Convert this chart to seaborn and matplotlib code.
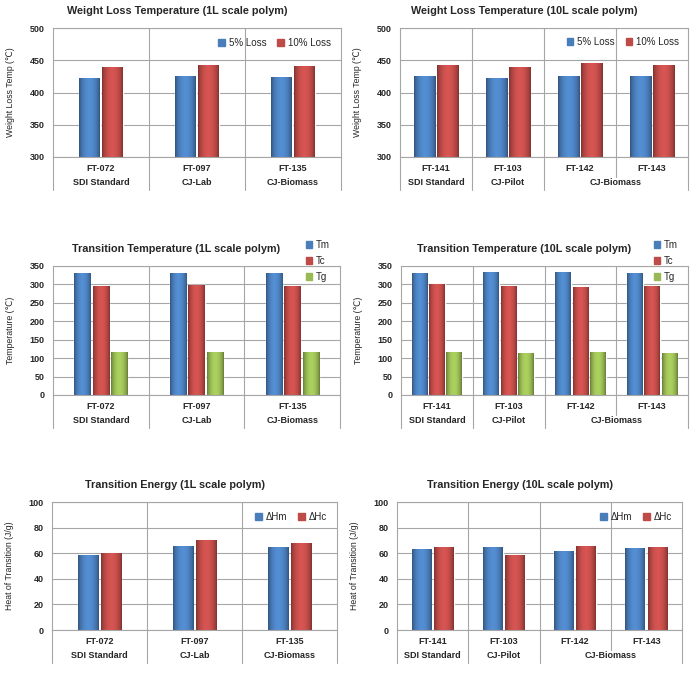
import numpy as np
import pandas as pd
import matplotlib
matplotlib.use('Agg')
import matplotlib.pyplot as plt
import matplotlib.colors as mcolors
import matplotlib.transforms as mtransforms
from matplotlib.patches import Patch
import seaborn as sns

# --- data ---
samples_1l = ['FT-072', 'FT-097', 'FT-135']
groups_1l = ['SDI Standard', 'CJ-Lab', 'CJ-Biomass']
samples_10l = ['FT-141', 'FT-103', 'FT-142', 'FT-143']
groups_10l = ['SDI Standard', 'CJ-Pilot', 'CJ-Biomass', 'CJ-Biomass']

loss_labels = ['5% Loss', '10% Loss']
loss5_1l = [422, 426, 424]
loss10_1l = [440, 442, 441]
loss5_10l = [425, 423, 426, 425]
loss10_10l = [443, 439, 446, 443]

trans_labels = ['Tm', 'Tc', 'Tg']
tm_1l = [330, 330, 332]
tc_1l = [297, 298, 297]
tg_1l = [118, 116, 118]
tm_10l = [331, 334, 333, 331]
tc_10l = [300, 295, 293, 295]
tg_10l = [118, 115, 118, 115]

energy_labels = ['\u0394Hm', '\u0394Hc']
hm_1l = [58.7, 66, 65.2]
hc_1l = [60, 70, 68.3]
hm_10l = [63, 65, 62, 64.4]
hc_10l = [65, 58.7, 66, 65]

BLUE, RED, GREEN = '#4A7EBB', '#BE4B48', '#98B954'
LINE = '#A6A6A6'

sns.set_style('white')
plt.rcParams['font.family'] = ['Liberation Sans', 'DejaVu Sans']

W, H = 697, 677
fig = plt.figure(figsize=(W / 100, H / 100), dpi=100)


def px_axes(left, top, width, height):
    return fig.add_axes([left / W, 1 - (top + height) / H, width / W, height / H])


def shade_bars(ax):
    # cylinder-like shading similar to the old Excel bars
    t = np.linspace(0, 1, 48)
    f = 0.66 + 0.47 * np.sin(np.pi * t) ** 0.7
    ymin = ax.get_ylim()[0]
    for bar in list(ax.patches):
        w, h = bar.get_width(), bar.get_height()
        if not w or not h or np.isnan(h):
            continue
        base = np.array(mcolors.to_rgb(bar.get_facecolor()))
        img = np.clip(base[None, None, :] * f[None, :, None], 0, 1)
        x0, y0 = bar.get_x(), bar.get_y()
        im = ax.imshow(img, extent=[x0, x0 + w, max(y0, ymin), y0 + h],
                       aspect='auto', interpolation='bilinear',
                       zorder=bar.get_zorder() + 0.1)
        im.set_clip_path(bar)


def draw_panel(ax, samples, groups, series, labels, colors, ylim, step,
               title, ylabel, width, gap, legend_kw):
    rows = []
    for lab, vals in zip(labels, series):
        for s, v in zip(samples, vals):
            rows.append({'sample': s, 'series': lab, 'value': v})
    df = pd.DataFrame(rows)
    sns.barplot(data=df, x='sample', y='value', hue='series', order=samples,
                hue_order=labels, palette=colors, saturation=1, width=width,
                gap=gap, legend=False, errorbar=None, ax=ax)
    n = len(samples)
    ax.set_xlim(-0.5, n - 0.5)
    ax.set_ylim(*ylim)
    shade_bars(ax)
    ax.set_xlim(-0.5, n - 0.5)
    ax.set_ylim(*ylim)
    ticks = np.arange(ylim[0], ylim[1] + 0.1, step)
    ax.set_yticks(ticks)
    ax.set_yticklabels([f'{t:.0f}' for t in ticks], fontweight='bold', fontsize=6.5)
    ax.set_xticks(range(n))
    ax.set_xticklabels(samples, fontweight='bold', fontsize=6.5)
    ax.tick_params(axis='x', length=0, pad=5)
    ax.tick_params(axis='y', length=0, pad=6)
    ax.set_xlabel('')
    ax.set_ylabel(ylabel, fontsize=6.3)
    ax.yaxis.set_label_coords(-0.132, 0.5)
    ax.yaxis.grid(True, color=LINE, lw=0.8)
    ax.set_axisbelow(True)
    for sp in ax.spines.values():
        sp.set_color(LINE)
        sp.set_linewidth(0.8)

    trans = mtransforms.blended_transform_factory(ax.transData, ax.transAxes)
    for b in range(n + 1):
        outer = b == 0 or b == n or groups[b - 1] != groups[b]
        y_bot = -0.256 if outer else -0.153
        y_top = 0 if b in (0, n) else 1
        ax.plot([b - 0.5, b - 0.5], [y_top, y_bot], color=LINE, lw=0.8,
                transform=trans, clip_on=False)
    start = 0
    for i in range(1, n + 1):
        if i == n or groups[i] != groups[start]:
            ax.text((start + i - 1) / 2, -0.2, groups[start], transform=trans,
                    ha='center', va='center', fontsize=6.5, fontweight='bold')
            start = i

    ax.text(0.43, 1.135, title, transform=ax.transAxes, ha='center',
            va='center', fontsize=7.8, fontweight='bold')
    handles = [Patch(color=c, label=l) for c, l in zip(colors, labels)]
    ax.legend(handles=handles, frameon=False, fontsize=7, handlelength=0.7,
              handleheight=0.7, handletextpad=0.4, borderaxespad=0,
              borderpad=0, **legend_kw)


horiz = dict(ncol=2, loc='center right', columnspacing=1.1)

ax1 = px_axes(53, 28, 288, 129)
draw_panel(ax1, samples_1l, groups_1l, [loss5_1l, loss10_1l], loss_labels,
           [BLUE, RED], (300, 500), 50,
           'Weight Loss Temperature (1L scale polym)', 'Weight Loss Temp (\u2103)',
           0.48, 0.1, dict(horiz, bbox_to_anchor=(0.965, 0.886)))

ax2 = px_axes(400, 28, 288, 129)
draw_panel(ax2, samples_10l, groups_10l, [loss5_10l, loss10_10l], loss_labels,
           [BLUE, RED], (300, 500), 50,
           'Weight Loss Temperature (10L scale polym)', 'Weight Loss Temp (\u2103)',
           0.64, 0.05, dict(horiz, bbox_to_anchor=(0.97, 0.894)))

vert = dict(ncol=1, loc='upper left', labelspacing=0.6)

ax3 = px_axes(53, 266, 287, 129)
draw_panel(ax3, samples_1l, groups_1l, [tm_1l, tc_1l, tg_1l], trans_labels,
           [BLUE, RED, GREEN], (0, 350), 50,
           'Transition Temperature (1L scale polym)', 'Temperature (\u2103)',
           0.58, 0.12, dict(vert, bbox_to_anchor=(0.88, 1.2)))

ax4 = px_axes(401, 266, 287, 129)
draw_panel(ax4, samples_10l, groups_10l, [tm_10l, tc_10l, tg_10l], trans_labels,
           [BLUE, RED, GREEN], (0, 350), 50,
           'Transition Temperature (10L scale polym)', 'Temperature (\u2103)',
           0.73, 0.1, dict(vert, bbox_to_anchor=(0.88, 1.2)))

ax5 = px_axes(52, 502, 285, 128)
draw_panel(ax5, samples_1l, groups_1l, [hm_1l, hc_1l], energy_labels,
           [BLUE, RED], (0, 100), 20,
           'Transition Energy (1L scale polym)', 'Heat of Transition (J/g)',
           0.47, 0.1, dict(horiz, bbox_to_anchor=(0.965, 0.885)))

ax6 = px_axes(397, 502, 285, 128)
draw_panel(ax6, samples_10l, groups_10l, [hm_10l, hc_10l], energy_labels,
           [BLUE, RED], (0, 100), 20,
           'Transition Energy (10L scale polym)', 'Heat of Transition (J/g)',
           0.625, 0.11, dict(horiz, bbox_to_anchor=(0.965, 0.885)))

fig.savefig('out.png', dpi=100)
